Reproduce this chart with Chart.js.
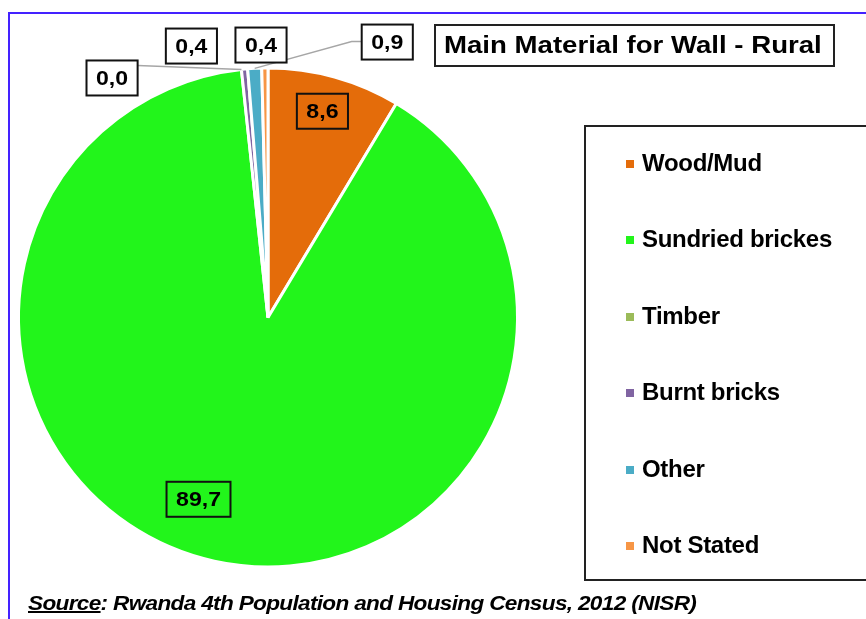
<!DOCTYPE html>
<html>
<head>
<meta charset="utf-8">
<script src="https://cdn.jsdelivr.net/npm/chart.js@4.4.1/dist/chart.umd.min.js"></script>
<style>
  body { margin: 0; background: #fff; font-family: "Liberation Sans", Arial, sans-serif; }
  #wrap { position: relative; width: 866px; height: 619px; overflow: hidden; background: #fff; }
  #chart { position: absolute; left: 0; top: 0; }
  .frameTop { position: absolute; left: 8px; top: 12px; width: 860px; height: 2px; background: #4422ff; }
  .frameLeft { position: absolute; left: 8px; top: 12px; width: 2px; height: 610px; background: #4422ff; }
  #title { position: absolute; left: 434px; top: 24px; width: 397px; height: 39px; border: 2px solid #222;
    font-weight: bold; font-size: 23px; line-height: 39px; white-space: nowrap; }
  #title span { display: inline-block; transform-origin: left center; transform: scaleX(1.2); margin-left: 8px; }
  #legend { position: absolute; left: 584px; top: 125px; width: 320px; height: 452px; border: 2px solid #222; }
  .item { position: absolute; left: 40px; height: 30px; font-weight: bold; font-size: 24px; line-height: 30px; white-space: nowrap; letter-spacing: -0.3px; }
  .item i { display: inline-block; width: 8px; height: 8px; margin-right: 8px; vertical-align: 3px; }
  #source { position: absolute; left: 28px; top: 592px; font-weight: bold; font-style: italic; font-size: 20px; white-space: nowrap; letter-spacing: -0.6px;
    transform-origin: left center; transform: scaleX(1.13); }
  #source u { text-decoration-thickness: 2px; }
</style>
</head>
<body>
<div id="wrap">
  <canvas id="chart" width="866" height="619"></canvas>
  <div class="frameTop"></div>
  <div class="frameLeft"></div>
  <div id="title"><span>Main Material for Wall - Rural</span></div>
  <div id="legend"></div>
  <div id="source"><u>Source</u>: Rwanda 4th Population and Housing Census, 2012 (NISR)</div>
</div>
<script>
const categories = ['Wood/Mud', 'Sundried brickes', 'Timber', 'Burnt bricks', 'Other', 'Not Stated'];
const shares = [8.6, 89.7, 0.0, 0.4, 0.9, 0.4];
const colors = ['#e46c0a', '#22f51b', '#9bbb59', '#8064a2', '#4bacc6', '#f79646'];

// where each value box sits: inside (fraction of radius, angle shift in deg) or outside (dx, dy in radii from centre)
const labelPlace = [
  { inside: true, r: 0.855, da: -0.7 },
  { inside: true, r: 0.78, da: 8.5 },
  { dx: -0.625, dy: -0.96, leader: 'right' },
  { dx: -0.307, dy: -1.088 },
  { dx: 0.478, dy: -1.104, leader: 'left' },
  { dx: -0.028, dy: -1.092 }
];

function fmt(v) { return v.toFixed(1).replace('.', ','); }

const legend = document.getElementById('legend');
categories.forEach((c, i) => {
  const d = document.createElement('div');
  d.className = 'item';
  d.style.top = (21 + i * 76.4) + 'px';
  d.innerHTML = '<i style="background:' + colors[i] + '"></i>' + c;
  legend.appendChild(d);
});

const boxLabels = {
  id: 'boxLabels',
  afterDatasetsDraw(chart) {
    const ctx = chart.ctx;
    const meta = chart.getDatasetMeta(0);
    meta.data.forEach((arc, i) => {
      const p = labelPlace[i];
      const R = arc.outerRadius;
      const text = fmt(shares[i]);
      let cx, cy;
      const mid = (arc.startAngle + arc.endAngle) / 2;
      if (p.inside) {
        const a = mid + p.da * Math.PI / 180;
        cx = arc.x + Math.cos(a) * R * p.r;
        cy = arc.y + Math.sin(a) * R * p.r;
      } else {
        cx = arc.x + p.dx * R;
        cy = arc.y + p.dy * R;
      }
      ctx.save();
      ctx.font = 'bold 21px "Liberation Sans", Arial';
      const sx = 1.1;
      const tw = ctx.measureText(text).width * sx;
      const bw = tw + 19, bh = 35;
      const bx = cx - bw / 2, by = cy - bh / 2;
      if (p.leader) {
        const ox = arc.x + Math.cos(mid) * R;
        const oy = arc.y + Math.sin(mid) * R;
        ctx.strokeStyle = '#a6a6a6';
        ctx.lineWidth = 1.5;
        ctx.beginPath();
        if (p.leader === 'right') {
          ctx.moveTo(bx + bw, by + 5);
          ctx.lineTo(ox, oy);
        } else {
          ctx.moveTo(bx, by + 17);
          ctx.lineTo(bx - 10, by + 17);
          ctx.lineTo(ox, oy);
        }
        ctx.stroke();
      }
      if (!p.inside) {
        ctx.fillStyle = '#fff';
        ctx.fillRect(bx, by, bw, bh);
      }
      ctx.strokeStyle = '#111';
      ctx.lineWidth = 2;
      ctx.strokeRect(bx, by, bw, bh);
      ctx.fillStyle = '#000';
      ctx.textAlign = 'center';
      ctx.textBaseline = 'middle';
      ctx.translate(cx, cy + 1);
      ctx.scale(sx, 1);
      ctx.fillText(text, 0, 0);
      ctx.restore();
    });
  }
};

new Chart(document.getElementById('chart'), {
  type: 'pie',
  data: {
    labels: categories,
    datasets: [{
      data: shares,
      backgroundColor: colors,
      borderColor: '#fff',
      borderWidth: 3,
      hoverOffset: 0
    }]
  },
  options: {
    responsive: false,
    animation: false,
    devicePixelRatio: 1,
    layout: { padding: { left: 17, top: 66, right: 347, bottom: 50 } },
    plugins: {
      legend: { display: false },
      tooltip: { enabled: false }
    }
  },
  plugins: [boxLabels]
});
</script>
</body>
</html>
